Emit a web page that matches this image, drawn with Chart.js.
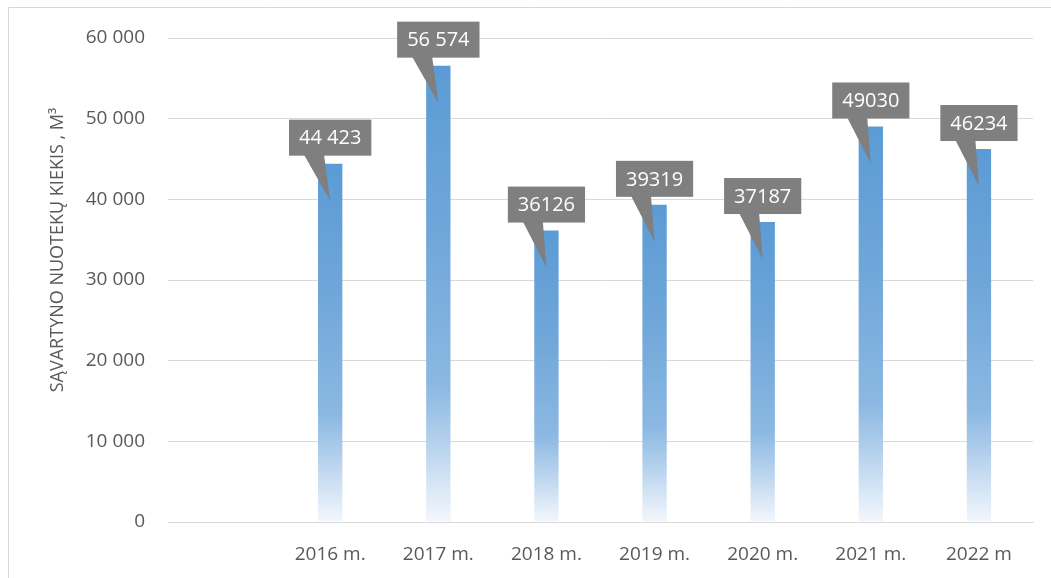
<!DOCTYPE html>
<html>
<head>
<meta charset="utf-8">
<script src="https://cdn.jsdelivr.net/npm/chart.js@4/dist/chart.umd.min.js"></script>
<style>
html,body{margin:0;padding:0;background:#fff;}
#wrap{width:1051px;height:578px;position:relative;}
</style>
</head>
<body>
<div id="wrap"><canvas id="c" width="1051" height="578"></canvas></div>
<script>
const categories = ['', '2016 m.', '2017 m.', '2018 m.', '2019 m.', '2020 m.', '2021 m.', '2022 m'];
const values = [null, 44423, 56574, 36126, 39319, 37187, 49030, 46234];
const valueLabels = ['', '44 423', '56 574', '36126', '39319', '37187', '49030', '46234'];
const yTitle = 'SĄVARTYNO NUOTEKŲ KIEKIS , M³';
const yMin = 0, yMax = 60000, yStep = 10000;

const FONT = '"Open Sans", sans-serif';
const TEXT = '#595959';

function fmt(v){ return v === 0 ? '0' : String(v).replace(/\B(?=(\d{3})+(?!\d))/g, ' '); }

const framePlugin = {
  id: 'frame',
  beforeDraw(chart){
    const ctx = chart.ctx;
    ctx.save();
    ctx.fillStyle = '#fff';
    ctx.fillRect(0,0,chart.width,chart.height);
    ctx.strokeStyle = '#d9d9d9';
    ctx.lineWidth = 1;
    ctx.beginPath();
    ctx.moveTo(8.5, chart.height);
    ctx.lineTo(8.5, 7.5);
    ctx.lineTo(chart.width, 7.5);
    ctx.stroke();
    ctx.restore();
  },
  afterDraw(chart){
    const ctx = chart.ctx;
    ctx.save();
    ctx.translate(58, 250);
    ctx.rotate(-Math.PI/2);
    ctx.fillStyle = TEXT;
    ctx.font = '18px ' + FONT;
    ctx.textAlign = 'center';
    ctx.textBaseline = 'middle';
    ctx.fillText(yTitle, 0, 0);
    ctx.restore();
  }
};

const calloutPlugin = {
  id: 'callouts',
  afterDatasetsDraw(chart){
    const ctx = chart.ctx;
    const meta = chart.getDatasetMeta(0);
    ctx.save();
    ctx.font = '20px ' + FONT;
    meta.data.forEach((bar, i) => {
      if (values[i] == null) return;
      const txt = valueLabels[i];
      const w = ctx.measureText(txt).width + 20;
      const h = 36;
      const left = bar.x - w/2;
      const bottom = bar.y - 8;
      ctx.fillStyle = '#7f7f7f';
      ctx.beginPath();
      ctx.moveTo(left + 15, bottom - 1);
      ctx.lineTo(left + 35, bottom - 1);
      ctx.lineTo(bar.x, bar.y + 37);
      ctx.closePath();
      ctx.fill();
      ctx.fillRect(left, bottom - h, w, h);
      ctx.fillStyle = '#ffffff';
      ctx.textAlign = 'center';
      ctx.textBaseline = 'middle';
      ctx.fillText(txt, bar.x, bottom - h/2 + 1);
    });
    ctx.restore();
  }
};

function barFill(context){
  const chart = context.chart;
  const v = context.raw;
  if (v == null || !chart.chartArea) return '#5B9BD5';
  const ys = chart.scales.y;
  const top = ys.getPixelForValue(v);
  const bot = ys.getPixelForValue(0);
  const g = chart.ctx.createLinearGradient(0, top, 0, bot);
  g.addColorStop(0, '#5B9BD5');
  g.addColorStop(0.35, '#6ea6d9');
  g.addColorStop(0.7, '#8bb8e2');
  g.addColorStop(0.82, '#b3d0ec');
  g.addColorStop(0.93, '#dbe8f6');
  g.addColorStop(1, '#f3f7fc');
  return g;
}

new Chart(document.getElementById('c'), {
  type: 'bar',
  data: {
    labels: categories,
    datasets: [{
      data: values,
      backgroundColor: barFill,
      borderWidth: 0,
      categoryPercentage: 0.225,
      barPercentage: 1
    }]
  },
  options: {
    responsive: false,
    animation: false,
    devicePixelRatio: 1,
    layout: { padding: { left: 0, right: 18, top: 38, bottom: 0 } },
    plugins: { legend: { display: false }, tooltip: { enabled: false } },
    scales: {
      x: {
        offset: true,
        grid: { display: false, drawTicks: false },
        border: { display: true, color: '#d9d9d9', width: 1 },
        ticks: { color: TEXT, font: { family: FONT, size: 19 }, padding: 21, maxRotation: 0 },
        afterFit(s){ s.height = 56; }
      },
      y: {
        min: yMin, max: yMax,
        grid: { color: '#d9d9d9', drawTicks: false },
        border: { display: false },
        ticks: { stepSize: yStep, color: TEXT, font: { family: FONT, size: 19 }, padding: 23,
                 callback: v => fmt(v) },
        afterFit(s){ s.width = 168; }
      }
    }
  },
  plugins: [framePlugin, calloutPlugin]
});
</script>
</body>
</html>
